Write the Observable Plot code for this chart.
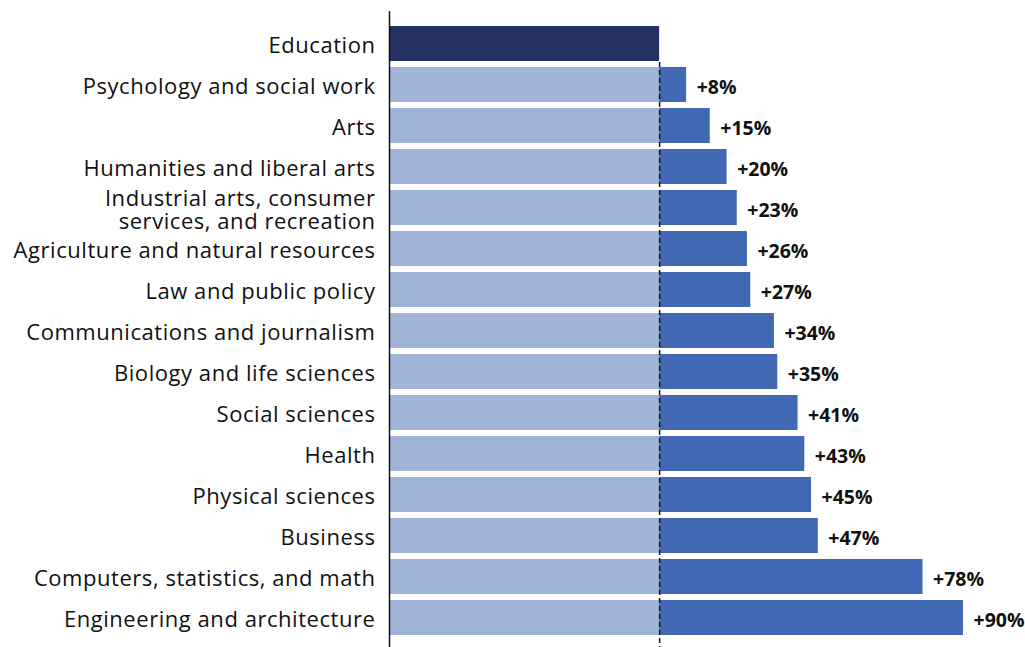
<!DOCTYPE html>
<html>
<head>
<meta charset="utf-8">
<script src="https://cdn.jsdelivr.net/npm/d3@7"></script>
<script src="https://cdn.jsdelivr.net/npm/@observablehq/plot@0.6"></script>
<style>
  html, body { margin: 0; padding: 0; background: #fff; }
  #chart svg { display: block; }
  #chart svg g[aria-label="y-axis tick label"] text { letter-spacing: 0.55px; }
</style>
</head>
<body>
<div id="chart"></div>
<script>
const categories = [
  "Education",
  "Psychology and social work",
  "Arts",
  "Humanities and liberal arts",
  "Industrial arts, consumer services, and recreation",
  "Agriculture and natural resources",
  "Law and public policy",
  "Communications and journalism",
  "Biology and life sciences",
  "Social sciences",
  "Health",
  "Physical sciences",
  "Business",
  "Computers, statistics, and math",
  "Engineering and architecture"
];
const tickLabels = [
  "Education",
  "Psychology and social work",
  "Arts",
  "Humanities and liberal arts",
  "Industrial arts, consumer\nservices, and recreation",
  "Agriculture and natural resources",
  "Law and public policy",
  "Communications and journalism",
  "Biology and life sciences",
  "Social sciences",
  "Health",
  "Physical sciences",
  "Business",
  "Computers, statistics, and math",
  "Engineering and architecture"
];
const premiums = [0, 8, 15, 20, 23, 26, 27, 34, 35, 41, 43, 45, 47, 78, 90];
const educationLevel = 100; // Education earnings = 100%
const axisStart = 20;       // axis does not start at zero

const rows = categories.map((c, i) => ({category: c, premium: premiums[i], label: tickLabels[i]}));
const others = rows.filter(d => d.category !== "Education");
const edu = rows.filter(d => d.category === "Education");
const labelOf = new Map(rows.map(d => [d.category, d.label]));

const chart = Plot.plot({
  width: 1025,
  height: 647,
  marginLeft: 389,
  marginRight: 62,
  marginTop: 21,
  marginBottom: 7,
  style: {fontFamily: "'Open Sans', sans-serif", background: "#fff"},
  x: {domain: [axisStart, educationLevel + 90], axis: null},
  y: {domain: categories, paddingInner: 0.15, paddingOuter: 0.075, label: null},
  marks: [
    Plot.axisY({
      tickSize: 0,
      tickPadding: 14,
      fontSize: 22,
      lineHeight: 1.04,
      fill: "#111",
      tickFormat: d => labelOf.get(d),
      dy: 2
    }),
    // Education base bar
    Plot.barX(edu, {x1: axisStart, x2: educationLevel, y: "category", fill: "#233163"}),
    // Base (education-level) part of other bars
    Plot.barX(others, {x1: axisStart, x2: educationLevel, y: "category", fill: "#A0B4DA"}),
    // Premium part
    Plot.barX(others, {x1: educationLevel, x2: d => educationLevel + d.premium, y: "category", fill: "#4168B3"}),
    // dashed reference line at the Education level
    Plot.ruleX([educationLevel], {stroke: "#111", strokeWidth: 1.5, strokeDasharray: "5,3", insetTop: 41, insetBottom: -8}),
    // axis line
    Plot.ruleX([axisStart], {stroke: "#111", strokeWidth: 1.5, insetTop: -10, insetBottom: -8}),
    // value labels
    Plot.text(others, {
      x: d => educationLevel + d.premium,
      y: "category",
      text: d => `+${d.premium}%`,
      textAnchor: "start",
      dx: 10,
      dy: 3,
      fontSize: 19.5,
      fontWeight: "bold",
      fill: "#111"
    })
  ]
});
document.getElementById("chart").appendChild(chart);
</script>
</body>
</html>
